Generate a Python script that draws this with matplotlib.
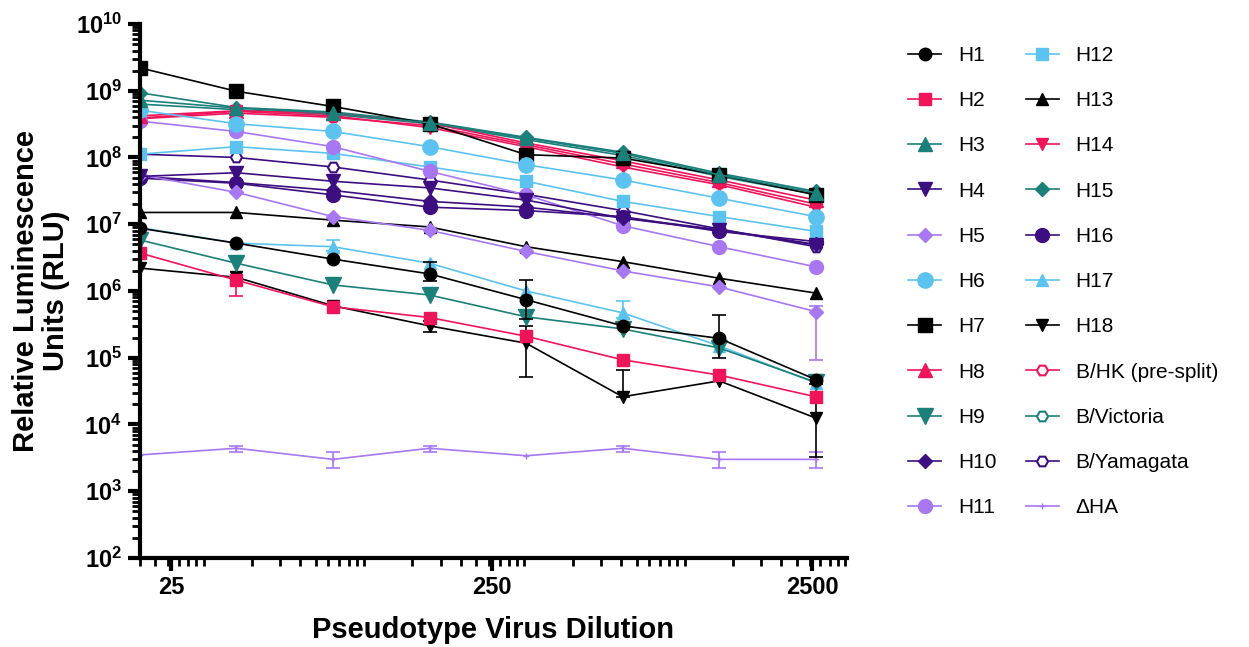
import matplotlib
matplotlib.use("Agg")
import matplotlib.pyplot as plt
import numpy as np
from matplotlib.ticker import FixedLocator, NullFormatter, LogLocator

plt.rcParams['font.family'] = ['Liberation Sans', 'DejaVu Sans']
plt.rcParams['mathtext.fontset'] = 'custom'
plt.rcParams['mathtext.rm'] = 'Liberation Sans'
plt.rcParams['mathtext.bf'] = 'Liberation Sans:bold'

dilution = [20, 40, 80, 160, 320, 640, 1280, 2560]

H1 = [8.7e6, 5.2e6, 3.0e6, 1.8e6, 7.4e5, 3.0e5, 1.95e5, 4.7e4]
H2 = [3.7e6, 1.45e6, 5.8e5, 4.0e5, 2.1e5, 9.3e4, 5.5e4, 2.6e4]
H3 = [7.2e8, 5.5e8, 4.6e8, 3.3e8, 1.95e8, 1.15e8, 5.5e7, 2.95e7]
H4 = [5.2e7, 5.9e7, 4.4e7, 3.5e7, 2.3e7, 1.23e7, 8.1e6, 4.9e6]
H5 = [5.5e7, 3.0e7, 1.3e7, 8.1e6, 3.9e6, 2.0e6, 1.15e6, 4.9e5]
H6 = [5.1e8, 3.2e8, 2.45e8, 1.45e8, 7.8e7, 4.6e7, 2.45e7, 1.3e7]
H7 = [2.2e9, 9.8e8, 5.8e8, 3.2e8, 1.1e8, 9.8e7, 5.5e7, 2.75e7]
H8 = [4.2e8, 5.0e8, 4.6e8, 3.3e8, 1.65e8, 8.9e7, 4.6e7, 2.3e7]
H9 = [5.8e6, 2.6e6, 1.23e6, 8.7e5, 4.1e5, 2.7e5, 1.4e5, 4.3e4]
H10 = [5.2e7, 4.2e7, 3.2e7, 2.2e7, 1.8e7, 1.25e7, 8.3e6, 5.0e6]
H11 = [3.5e8, 2.45e8, 1.45e8, 6.2e7, 2.75e7, 9.5e6, 4.6e6, 2.3e6]
H12 = [1.12e8, 1.45e8, 1.15e8, 7.2e7, 4.4e7, 2.2e7, 1.3e7, 7.8e6]
H13 = [1.5e7, 1.5e7, 1.15e7, 9.1e6, 4.6e6, 2.75e6, 1.55e6, 9.3e5]
H14 = [3.9e8, 4.9e8, 4.2e8, 2.8e8, 1.45e8, 7.2e7, 3.9e7, 1.8e7]
H15 = [9.3e8, 5.6e8, 4.8e8, 3.4e8, 2.0e8, 1.2e8, 5.8e7, 3.1e7]
H16 = [4.9e7, 4.1e7, 2.75e7, 1.8e7, 1.6e7, 1.3e7, 7.8e6, 5.5e6]
H17 = [8.9e6, 5.2e6, 4.6e6, 2.6e6, 1.0e6, 4.7e5, 1.5e5, 4.2e4]
H18 = [2.2e6, 1.6e6, 6.0e5, 3.0e5, 1.65e5, 2.6e4, 4.5e4, 1.25e4]
B_HK = [3.8e8, 4.6e8, 4.0e8, 3.0e8, 1.55e8, 8.0e7, 4.2e7, 2.0e7]
B_Vic = [6.3e8, 5.2e8, 4.4e8, 3.2e8, 1.85e8, 1.07e8, 5.2e7, 2.8e7]
B_Yam = [1.12e8, 1.0e8, 7.2e7, 4.6e7, 2.8e7, 1.6e7, 8.5e6, 4.6e6]
dHA = [3.5e3, 4.4e3, 3.0e3, 4.4e3, 3.4e3, 4.4e3, 3.0e3, 3.0e3]

# (series, point index, low, high)
err_bars = [
    ("H2", 1, 8.5e5, 1.6e6),
    ("H17", 2, 4.0e6, 5.8e6),
    ("H1", 3, 1.4e6, 2.7e6),
    ("H18", 3, 2.4e5, 3.5e5),
    ("H1", 4, 3.8e5, 1.45e6),
    ("H18", 4, 5.1e4, 3.0e5),
    ("H18", 5, 2.6e4, 6.5e4),
    ("H17", 5, 4.0e5, 7.0e5),
    ("H1", 6, 1.0e5, 4.3e5),
    ("H5", 7, 9.3e4, 6.0e5),
    ("H18", 7, 3.3e3, 4.0e4),
    ("dHA", 1, 3.9e3, 4.8e3),
    ("dHA", 2, 2.2e3, 3.9e3),
    ("dHA", 3, 3.9e3, 4.8e3),
    ("dHA", 5, 3.9e3, 4.8e3),
    ("dHA", 6, 2.2e3, 3.9e3),
    ("dHA", 7, 2.2e3, 3.9e3),
]

black = "#000000"
pink = "#F0145A"
teal = "#1B7F7A"
indigo = "#3D0E80"
lilac = "#A877F2"
sky = "#5CC3F0"

series = [
    ("H1", H1, black, "o", 9, True),
    ("H2", H2, pink, "s", 9, True),
    ("H3", H3, teal, "^", 10, True),
    ("H4", H4, indigo, "v", 10, True),
    ("H5", H5, lilac, "D", 7, True),
    ("H6", H6, sky, "o", 11, True),
    ("H7", H7, black, "s", 10, True),
    ("H8", H8, pink, "^", 10, True),
    ("H9", H9, teal, "v", 11, True),
    ("H10", H10, indigo, "D", 7, True),
    ("H11", H11, lilac, "o", 10, True),
    ("H12", H12, sky, "s", 9, True),
    ("H13", H13, black, "^", 8, True),
    ("H14", H14, pink, "v", 9, True),
    ("H15", H15, teal, "D", 7, True),
    ("H16", H16, indigo, "o", 10, True),
    ("H17", H17, sky, "^", 9, True),
    ("H18", H18, black, "v", 9, True),
    ("B/HK (pre-split)", B_HK, pink, "H", 8, False),
    ("B/Victoria", B_Vic, teal, "H", 8, False),
    ("B/Yamagata", B_Yam, indigo, "H", 8, False),
    ("\u0394HA", dHA, lilac, "+", 5, True),
]
short = {"B/HK (pre-split)": "B_HK", "B/Victoria": "B_Vic", "B/Yamagata": "B_Yam", "\u0394HA": "dHA"}

fig = plt.figure(figsize=(12.49, 6.47), dpi=100)
ax = fig.add_axes([0.112, 0.1376, 0.566, 0.8254])

handles = []
for name, vals, col, mk, ms, filled in reversed(series):
    key = short.get(name, name)
    for s, i, lo, hi in err_bars:
        if s == key:
            ax.errorbar([dilution[i]], [vals[i]],
                        yerr=[[vals[i] - lo], [hi - vals[i]]],
                        fmt="none", ecolor=col, elinewidth=1.2, capsize=5, capthick=1.2)
    ln, = ax.plot(dilution, vals, color=col, lw=1.2, marker=mk, ms=ms,
                  mfc=col if filled else "white", mec=col, mew=1.5 if not filled else 1)
    handles.append(ln)
handles = handles[::-1]

ax.set_xscale("log")
ax.set_yscale("log")
ax.set_xlim(20, 3200)
ax.set_ylim(1e2, 1e10)

ax.xaxis.set_major_locator(FixedLocator([25, 250, 2500]))
ax.set_xticklabels(["25", "250", "2500"])
minor_x = [np.sqrt(n * 10.0 ** m) for m in range(1, 8) for n in range(1, 10)]
minor_x = [v for v in minor_x if 20 <= v <= 3200]
ax.xaxis.set_minor_locator(FixedLocator(minor_x))
ax.xaxis.set_minor_formatter(NullFormatter())

ax.yaxis.set_major_locator(FixedLocator([10.0 ** k for k in range(2, 11)]))
ax.set_yticklabels([r"$\mathbf{10^{%d}}$" % k for k in range(2, 11)])
ax.yaxis.set_minor_locator(LogLocator(base=10, subs=np.arange(2, 10), numticks=20))
ax.yaxis.set_minor_formatter(NullFormatter())

for side in ["top", "right"]:
    ax.spines[side].set_visible(False)
for side in ["left", "bottom"]:
    ax.spines[side].set_linewidth(3)

ax.tick_params(which="major", length=9, width=3, labelsize=17, pad=4)
ax.tick_params(which="minor", length=6, width=2)
for lab in ax.get_xticklabels():
    lab.set_fontweight("bold")

ax.set_xlabel("Pseudotype Virus Dilution", fontsize=21, fontweight="bold", labelpad=12)
ax.set_ylabel("Relative Luminescence\nUnits (RLU)", fontsize=21, fontweight="bold",
              labelpad=4, linespacing=1.1)

fig.legend(handles, [s[0] for s in series], ncol=2, loc="upper left",
           bbox_to_anchor=(0.712, 0.958), frameon=False, fontsize=15,
           labelspacing=1.26, columnspacing=1.4, handlelength=1.6, handletextpad=0.8)

fig.savefig("out.png", dpi=100)
